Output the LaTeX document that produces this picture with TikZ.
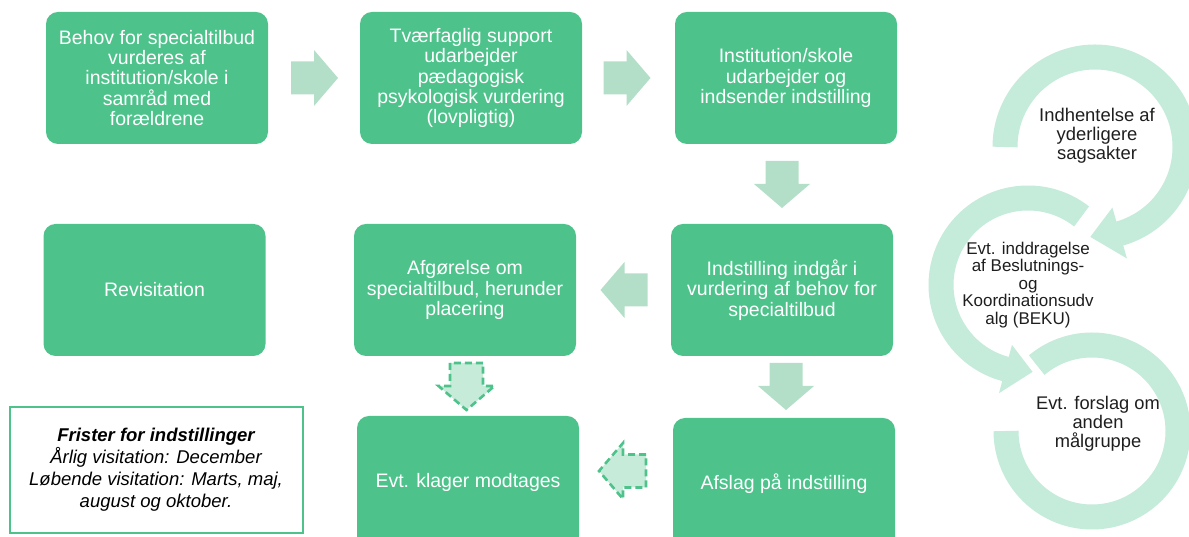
\documentclass[tikz,border=0pt]{standalone}
\usepackage{fontspec}
\setmainfont{Liberation Sans}
\usetikzlibrary{calc}

\definecolor{boxgreen}{HTML}{4DC38B}
\definecolor{arrowgreen}{HTML}{B3DFC8}
\definecolor{dashfill}{HTML}{C6EBD9}
\definecolor{ringgreen}{HTML}{C5EBDA}
\definecolor{ringtextcol}{HTML}{1E1E1E}

\tikzset{
  stepbox/.style={fill=boxgreen, rounded corners=12pt, minimum width=222pt,
    minimum height=132pt, align=center, text=white, inner sep=0pt,
    font=\fontsize{19.5}{20.3}\selectfont},
  ringlabel/.style={align=center, text=ringtextcol, inner sep=0pt},
  flowarrow/.style={fill=arrowgreen},
  dashedarrow/.style={fill=dashfill, draw=boxgreen, line width=2.6pt,
    dash pattern=on 7pt off 4pt},
  ringband/.style={draw=ringgreen, line width=25pt},
  pics/blockarrow/.style={code={
    \path[pic actions] (-23,-16.5) -- (0,-16.5) -- (0,-28) -- (24,0)
      -- (0,28) -- (0,16.5) -- (-23,16.5) -- cycle;}},
}

\begin{document}
\begin{tikzpicture}[x=1pt, y=1pt]
\useasboundingbox (0,0) rectangle (1189,537);
\clip (0,0) rectangle (1189,537);

% process steps
\node[stepbox] (b1) at (157,459) {Behov for specialtilbud\\vurderes af\\institution/skole i\\samråd med\\forældrene};
\node[stepbox] (b2) at (471,459) {Tværfaglig support\\udarbejder\\pædagogisk\\psykologisk vurdering\\(lovpligtig)};
\node[stepbox] (b3) at (786,459) {Institution/skole\\udarbejder og\\indsender indstilling};
\node[stepbox] (rv) at (154.5,247) {Revisitation};
\node[stepbox] (af) at (465,247) {Afgørelse om\\specialtilbud, herunder\\placering};
\node[stepbox] (ii) at (782,247) {Indstilling indgår i\\vurdering af behov for\\specialtilbud};
\node[stepbox] (kl) at (468,55) {Evt. klager modtages};
\node[stepbox] (as) at (784,53) {Afslag på indstilling};

% block arrows between the steps
\pic[flowarrow] at ($(b1.east)!0.5!(b2.west)$) {blockarrow};
\pic[flowarrow] at ($(b2.east)!0.5!(b3.west)+(-2,0)$) {blockarrow};
\pic[flowarrow, rotate=-90] at ($(b3.south)!0.5!(ii.north)+(-2,0)$) {blockarrow};
\pic[flowarrow, rotate=180] at ($(ii.west)!0.5!(af.east)+(1,0)$) {blockarrow};
\pic[flowarrow, rotate=-90] at ($(ii.south)!0.5!(as.north)+(3,1)$) {blockarrow};
\pic[dashedarrow, rotate=-90] at ($(af.south)!0.5!(kl.north)+(0,0)$) {blockarrow};
\pic[dashedarrow, rotate=180] at ($(kl.east)!0.5!(as.west)+(-3,12)$) {blockarrow};

% deadlines
\node[draw=boxgreen, line width=2pt, minimum width=293pt, minimum height=126pt,
  align=center, inner sep=0pt, font=\fontsize{18.5}{22}\selectfont\itshape]
  (fr) at (156,67) {\textbf{Frister for indstillinger}\\Årlig visitation: December\\Løbende visitation: Marts, maj,\\august og oktober.};

% circular arrows
\coordinate (c1) at (1095,390);
\coordinate (c2) at (1028,252);
\coordinate (c3) at (1092,106);

\draw[ringband] ($(c1)+(180:90)$) arc[start angle=180, end angle=-76, radius=90];
\fill[ringgreen] ($(c1)+(-74:63)$) -- ($(c1)+(-74:116)$) -- ($(c1)+(-93:90)$) -- cycle;
\node[ringlabel, font=\fontsize{18.4}{19.2}\selectfont] (r1) at (1097,401)
  {Indhentelse af\\yderligere\\sagsakter};

\draw[ringband] ($(c2)+(52:87)$) arc[start angle=52, end angle=257, radius=87];
\fill[ringgreen] ($(c2)+(255:62)$) -- ($(c2)+(255:112)$) -- ($(c2)+(273:87)$) -- cycle;
\node[ringlabel, font=\fontsize{17}{17.6}\selectfont] (r2) at (1028,252)
  {Evt. inddragelse\\af Beslutnings-\\og\\Koordinationsudv\\alg (BEKU)};

\draw[ringband] ($(c3)+(130:86)$) arc[start angle=130, end angle=-180, radius=86];
\node[ringlabel, font=\fontsize{18.3}{19}\selectfont] (r3) at (1098,113)
  {Evt. forslag om\\anden\\målgruppe};
\end{tikzpicture}
\end{document}
